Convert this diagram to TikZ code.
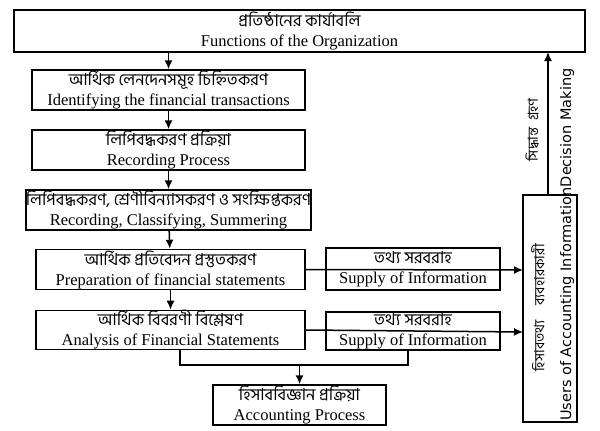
\documentclass[tikz,border=0pt]{standalone}
\usepackage{fontspec}
\usetikzlibrary{arrows.meta}
\setmainfont{Liberation Serif}
\newfontfamily\bn[Script=Bengali]{Hind Siliguri}
\newfontfamily\sansf{DejaVu Sans}
\begin{document}
\begin{tikzpicture}[x=1pt,y=-1pt,
  bx/.style={draw,line width=1.5pt,align=center,inner sep=0pt,font=\fontsize{16.5}{20}\selectfont},
  ar/.style={-{Latex[length=9pt,width=8pt]},line width=1.5pt},
  ln/.style={line width=1.5pt}]
\useasboundingbox[fill=white] (0,0) rectangle (600,431);
\node[bx,minimum width=571pt,minimum height=42pt] (top) at (299.5,31) {{\bn প্রতিষ্ঠানের কার্যাবলি}\\Functions of the Organization};
\node[bx,minimum width=273pt,minimum height=40pt] (b1) at (168.5,90) {{\bn আর্থিক লেনদেনসমূহ চিহ্নিতকরণ}\\Identifying the financial transactions};
\node[bx,minimum width=273pt,minimum height=40pt] (b2) at (168.5,150) {{\bn লিপিবদ্ধকরণ প্রক্রিয়া}\\Recording Process};
\node[bx,minimum width=273pt,minimum height=40pt] (b3) at (168.5,210) {{\bn লিপিবদ্ধকরণ, শ্রেণীবিন্যাসকরণ ও সংক্ষিপ্তকরণ}\\Recording, Classifying, Summering};
\node[bx,minimum width=269pt,minimum height=40pt] (b4) at (170.5,269.5) {{\bn আর্থিক প্রতিবেদন প্রস্তুতকরণ}\\Preparation of financial statements};
\node[bx,minimum width=269pt,minimum height=37pt] (b5) at (170.5,330) {{\bn আর্থিক বিবরণী বিশ্লেষণ}\\Analysis of Financial Statements};
\node[bx,minimum width=174pt,minimum height=42pt] (s1) at (413,269) {{\bn তথ্য সরবরাহ}\\Supply of Information};
\node[bx,minimum width=174pt,minimum height=38pt] (s2) at (413,331) {{\bn তথ্য সরবরাহ}\\Supply of Information};
\node[bx,minimum width=173pt,minimum height=40pt] (ap) at (299.5,405) {{\bn হিসাববিজ্ঞান প্রক্রিয়া}\\Accounting Process};
\draw[line width=1.5pt] (523,195) rectangle (577,422);
\coordinate (ul) at (523,270); \coordinate (ul2) at (523,332);
\node[rotate=90,font=\sansf\fontsize{14.5}{16}\selectfont,anchor=west,inner sep=0pt] (ut) at (567,421) {Users of Accounting Information};
\node[rotate=90,font=\sansf\fontsize{14.5}{16}\selectfont,anchor=west,inner sep=0pt] (dm) at (ut.east) {Decision Making};
\node[rotate=90,font=\bn\fontsize{14}{16}\selectfont] (ub) at (538,308) {হিসাবতথ্য\quad ব্যবহারকারী};
\node[rotate=90,font=\bn\fontsize{14}{16}\selectfont] (db) at (532,130) {সিদ্ধান্ত\ \ গ্রহণ};
\coordinate (dmb) at (548,195);
\draw[ar] (dmb) -- (548,52);
\draw[ar] (top.south-|b1) -- (b1);
\draw[ar] (b1) -- (b2);
\draw[ar] (b2) -- (b3);
\draw[ar] (b3) -- (b4);
\draw[ar] (b4) -- (b5);
\draw[ar] (b4.east) -- (ul);
\draw[ar] (b5.east) -- (ul2);
\coordinate (ba) at (180,365); \coordinate (bb) at (408,365);
\draw[ln] (b5.south-|ba) -- (ba) -- (bb) -- (s2.south-|bb);
\draw[ar] (299.5,365) -- (ap);
\end{tikzpicture}
\end{document}
